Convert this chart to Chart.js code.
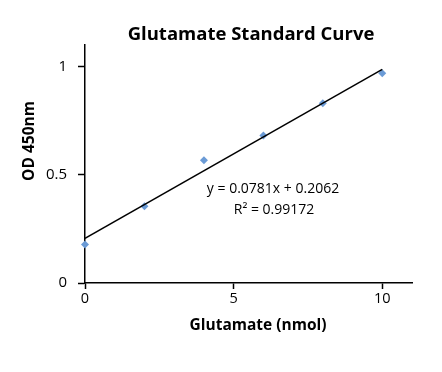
<!DOCTYPE html>
<html>
<head>
<meta charset="utf-8">
<script src="https://cdn.jsdelivr.net/npm/chart.js@4"></script>
<style>
html,body{margin:0;padding:0;background:#fff;}
#wrap{width:442px;height:372px;position:relative;}
</style>
</head>
<body>
<div id="wrap"><canvas id="c" width="442" height="372"></canvas></div>
<script>
const xValues = [0, 2, 4, 6, 8, 10];
const odValues = [0.178, 0.355, 0.567, 0.682, 0.831, 0.969];
const trendSlope = 0.0781;
const trendIntercept = 0.2062;
const trendRange = [0, 10];
const chartTitle = "Glutamate Standard Curve";
const xTitle = "Glutamate (nmol)";
const yTitle = "OD 450nm";
const equationLines = ["y = 0.0781x + 0.2062", "R² = 0.99172"];

const FONT = "'Open Sans', 'Liberation Sans', sans-serif";

const textPlugin = {
  id: 'texts',
  afterDraw(chart) {
    const ctx = chart.ctx;
    ctx.save();
    ctx.fillStyle = '#000';
    ctx.textAlign = 'center';
    ctx.textBaseline = 'middle';
    ctx.font = "bold 18.5px " + FONT;
    ctx.fillText(chartTitle, 251, 35);
    ctx.font = "bold 15.5px " + FONT;
    ctx.fillText(xTitle, 258, 326);
    ctx.save();
    ctx.translate(30, 141);
    ctx.rotate(-Math.PI / 2);
    ctx.fillText(yTitle, 0, 0);
    ctx.restore();
    ctx.font = "14px " + FONT;
    ctx.fillText(equationLines[0], 273, 189);
    ctx.fillText(equationLines[1], 274, 210);
    ctx.restore();
  }
};

new Chart(document.getElementById('c'), {
  type: 'scatter',
  data: {
    datasets: [
      {
        label: 'OD',
        data: xValues.map((v, i) => ({x: v, y: odValues[i]})),
        pointStyle: 'rectRot',
        pointRadius: 4,
        backgroundColor: '#6b9bd6',
        borderColor: '#6b9bd6',
        borderWidth: 0,
        clip: false,
        order: 2
      },
      {
        label: 'trend',
        type: 'line',
        data: trendRange.map(v => ({x: v, y: trendSlope * v + trendIntercept})),
        borderColor: '#000',
        borderWidth: 1.5,
        pointRadius: 0,
        fill: false,
        order: 1
      }
    ]
  },
  options: {
    responsive: false,
    animation: false,
    devicePixelRatio: 1,
    layout: {padding: {top: 45, right: 30, left: 0, bottom: 0}},
    plugins: {legend: {display: false}, title: {display: false}, tooltip: {enabled: false}},
    scales: {
      x: {
        type: 'linear',
        min: 0, max: 11,
        afterFit(s) { s.height = 89; },
        border: {color: '#000', width: 1.5},
        grid: {display: true, drawOnChartArea: false, drawTicks: true, tickLength: 6, color: '#000', tickWidth: 1.5},
        ticks: {stepSize: 5, includeBounds: false, color: '#000', font: {family: FONT, size: 14.5}, padding: 1, maxRotation: 0}
      },
      y: {
        type: 'linear',
        min: 0, max: 1.1,
        afterFit(s) { s.width = 85; },
        border: {color: '#000', width: 1.5},
        grid: {display: true, drawOnChartArea: false, drawTicks: true, tickLength: 7, color: '#000', tickWidth: 1.5},
        ticks: {stepSize: 0.5, includeBounds: false, color: '#000', font: {family: FONT, size: 15}, padding: 11,
          callback: v => String(v)}
      }
    }
  },
  plugins: [textPlugin]
});
</script>
</body>
</html>
